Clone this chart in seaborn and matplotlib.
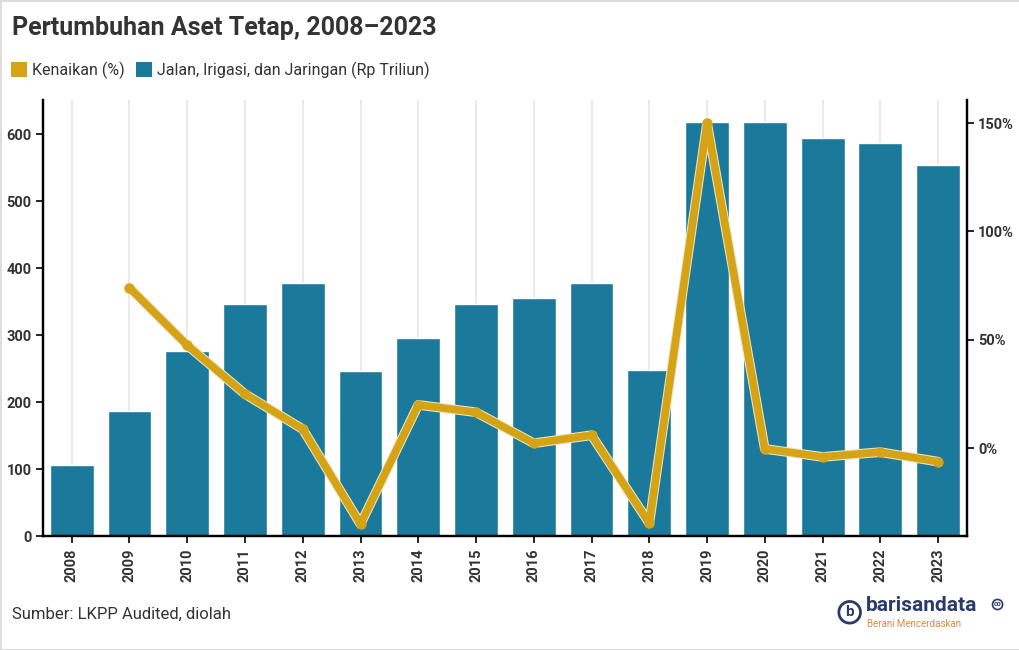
import matplotlib
matplotlib.use("Agg")
import matplotlib.pyplot as plt
import matplotlib.patheffects as pe
from matplotlib.patches import Patch
from matplotlib.ticker import FixedLocator, FuncFormatter
import seaborn as sns
import pandas as pd

years = ["2008", "2009", "2010", "2011", "2012", "2013", "2014", "2015",
         "2016", "2017", "2018", "2019", "2020", "2021", "2022", "2023"]
aset = [106, 187, 276, 346, 378, 246, 296, 346, 355, 378, 248, 618, 618, 594, 587, 554]
growth_years = years[1:]
growth = [74.0, 47.5, 25.0, 8.8, -35.0, 20.0, 16.6, 2.3, 6.0, -34.6, 150.0, -0.3, -4.0, -1.8, -6.2]

BAR = "#1b7a9b"
GOLD = "#d4a416"
TXT = "#333333"

sns.set_theme(style="white")
plt.rcParams["font.family"] = ["Roboto", "DejaVu Sans"]

fig = plt.figure(figsize=(10.2, 6.5), dpi=100, edgecolor="#dddddd", linewidth=2)
ax = fig.add_axes([0.042, 0.175, 0.906, 0.671])

df_bar = pd.DataFrame({"year": years, "aset": aset})
sns.barplot(data=df_bar, x="year", y="aset", order=years, color=BAR,
            saturation=1, width=0.76, ax=ax, zorder=2)
ax.set_ylim(0, 651)
ax.set_xlim(-0.5, len(years) - 0.5)
ax.set_axisbelow(True)
ax.grid(axis="x", color="#e6e6e6", linewidth=1.2, zorder=0)
ax.grid(axis="y", visible=False)
ax.set_yticks([0, 100, 200, 300, 400, 500, 600])
ax.set_xlabel("")
ax.set_ylabel("")

ax2 = ax.twinx()
df_line = pd.DataFrame({"year": growth_years, "growth": growth})
sns.pointplot(data=df_line, x="year", y="growth", order=years, color=GOLD,
              markers="o", linewidth=5.5, errorbar=None, ax=ax2)
line = ax2.lines[0]
line.set_marker("None")
line.set_solid_joinstyle("round")
line.set_solid_capstyle("round")
line.set_path_effects([pe.Stroke(linewidth=7, foreground="#efe3bd"), pe.Normal()])

sns.pointplot(data=df_line, x="year", y="growth", order=years, color=GOLD,
              markers="o", linestyles="none", errorbar=None, ax=ax2)
dots = ax2.lines[-1]
dots.set_linestyle("None")
dots.set_marker("o")
dots.set_markersize(7.5)
dots.set_markerfacecolor(GOLD)
dots.set_markeredgecolor(GOLD)
dots.set_markeredgewidth(0)
dots.set_zorder(line.get_zorder() + 1)

ax2.set_ylim(-40.6, 160.6)
ax2.set_xlim(-0.5, len(years) - 0.5)
ax2.yaxis.set_major_locator(FixedLocator([0, 50, 100, 150]))
ax2.yaxis.set_major_formatter(FuncFormatter(lambda v, p: f"{int(v)}%"))
ax2.set_ylabel("")
ax2.set_xlabel("")
ax2.grid(False)

for a in (ax, ax2):
    for s in ("left", "right", "bottom"):
        a.spines[s].set_visible(True)
        a.spines[s].set_color("black")
        a.spines[s].set_linewidth(1.6)
    a.spines["top"].set_visible(False)

ax.tick_params(axis="y", which="both", left=True, length=5, width=1.2, color="black",
               labelsize=10.5, labelcolor=TXT, pad=3)
ax.tick_params(axis="x", bottom=True, length=5, width=1.2, color="black",
               labelsize=10.5, labelcolor=TXT, pad=4, labelrotation=90)
ax2.tick_params(axis="y", right=True, length=5, width=1.2, color="black",
                labelsize=10.5, labelcolor=TXT, pad=3)
for lab in ax.get_yticklabels() + ax.get_xticklabels() + ax2.get_yticklabels():
    lab.set_fontweight("bold")

fig.text(0.012, 0.975, "Pertumbuhan Aset Tetap, 2008\u20132023", fontsize=18,
         fontweight="bold", color=TXT, va="top", ha="left")

handles = [Patch(facecolor=GOLD, edgecolor="none"), Patch(facecolor=BAR, edgecolor="none")]
fig.legend(handles, ["Kenaikan (%)", "Jalan, Irigasi, dan Jaringan (Rp Triliun)"],
           loc="center left", bbox_to_anchor=(0.011, 0.892), ncol=2, frameon=False,
           fontsize=11.5, handlelength=1.0, handleheight=1.0, handletextpad=0.3,
           columnspacing=0.7, labelcolor=TXT, borderpad=0, borderaxespad=0)

fig.text(0.012, 0.055, "Sumber: LKPP Audited, diolah", fontsize=12, color=TXT,
         va="center", ha="left")

NAVY = "#2a3a6a"
fig.text(0.833, 0.058, "b", fontsize=11, fontweight="bold", color=NAVY, va="center",
         ha="center", bbox=dict(boxstyle="circle,pad=0.25", facecolor="white",
                                edgecolor=NAVY, linewidth=2))
fig.text(0.849, 0.068, "barisandata", fontsize=15, fontweight="bold", color=NAVY,
         va="center", ha="left")
fig.text(0.978, 0.070, "co", fontsize=5, fontweight="bold", color=NAVY,
         va="center", ha="center", bbox=dict(boxstyle="circle,pad=0.15", facecolor="white",
                                             edgecolor=NAVY, linewidth=1.2))
fig.text(0.850, 0.040, "Berani Mencerdaskan", fontsize=7, color="#e08a3c",
         va="center", ha="left")

fig.savefig("out.png", dpi=100, edgecolor=fig.get_edgecolor(), facecolor="white")
